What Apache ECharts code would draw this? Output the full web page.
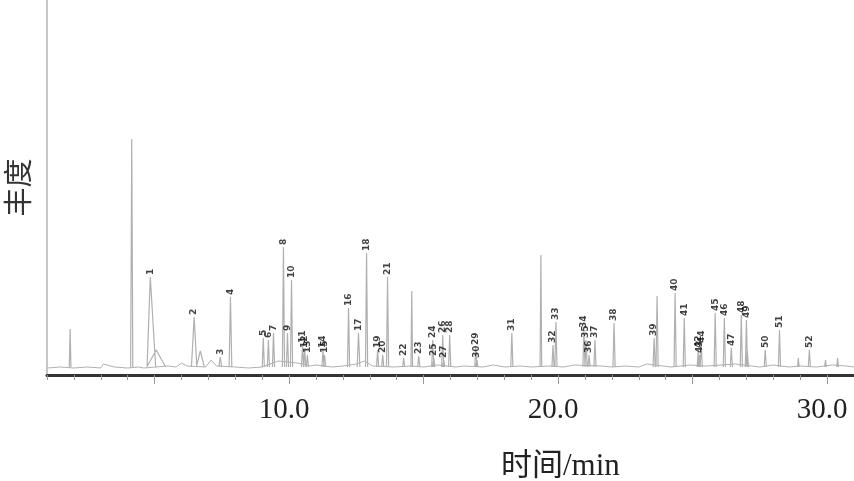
<!DOCTYPE html>
<html>
<head>
<meta charset="utf-8">
<script src="https://cdn.jsdelivr.net/npm/echarts@6/dist/echarts.min.js"></script>
<style>
  html, body { margin: 0; padding: 0; background: #fff; }
  #chart { width: 854px; height: 481px; }
</style>
</head>
<body>
<div id="chart"></div>
<script>
// 标记峰：编号、保留时间(min)、丰度、半峰宽
const peakNames = ['1','2','3','4','5','6','7','8','9','10','11','12','13','14','15','16','17','18','19','20','21','22','23','24','25','26','27','28','29','30','31','32','33','34','35','36','37','38','39','40','41','42','43','44','45','46','47','48','49','50','51','52']
const peakTimes = [4.84,6.47,7.44,7.82,9.04,9.23,9.42,9.79,9.94,10.09,10.50,10.58,10.68,11.26,11.32,12.21,12.58,12.88,13.29,13.48,13.66,14.26,14.82,15.34,15.38,15.71,15.75,15.97,16.94,16.98,18.28,19.81,19.92,20.96,21.04,21.15,21.37,22.08,23.57,24.35,24.69,25.21,25.25,25.32,25.84,26.18,26.44,26.81,27.00,27.70,28.23,29.34]
const peakHeights = [98,58,18,78,37,35,42,128,42,95,30,25,20,25,20,67,42,122,25,20,98,17,19,35,17,40,15,40,28,15,42,30,53,45,35,20,35,52,37,82,57,25,20,30,62,57,27,60,55,25,45,25]
const peakWidths = [0.2,0.1,0.05,0.05,0.04,0.04,0.04,0.04,0.04,0.04,0.04,0.04,0.04,0.04,0.04,0.04,0.05,0.04,0.04,0.04,0.04,0.04,0.04,0.04,0.04,0.04,0.04,0.04,0.04,0.04,0.04,0.04,0.04,0.04,0.04,0.04,0.04,0.04,0.04,0.04,0.04,0.04,0.04,0.04,0.04,0.04,0.04,0.04,0.04,0.04,0.04,0.04]

// 未标记峰
const otherTimes = [1.86,4.15,5.06,6.70,14.56,19.36,23.68,27.03,28.93,29.94,30.39]
const otherHeights = [46,236,25,24,84,120,79,25,17,15,17]
const otherWidths = [0.03,0.04,0.35,0.15,0.03,0.03,0.04,0.05,0.03,0.03,0.03]

// 基线
const baseTimes = [1.0,1.5,2.0,2.5,3.0,3.1,3.5,4.0,4.4,4.6,5.5,5.8,6.0,6.2,6.9,7.1,7.3,8.0,8.5,9.0,9.6,10.3,10.8,11.0,11.6,12.0,12.5,12.8,13.1,13.9,14.5,15.0,15.5,16.2,16.5,17.2,17.6,18.0,18.6,19.0,19.7,20.2,20.6,21.6,22.0,22.5,23.0,23.3,23.9,24.2,24.9,25.5,26.6,27.2,27.5,28.0,28.6,29.0,29.6,30.2,30.7,31.0]
const baseValues = [7,8,7,8,7,11,8,7,8,7,9,8,12,9,8,15,9,8,7,8,14,12,9,10,8,9,11,14,9,8,9,8,10,8,9,8,10,8,9,8,9,8,10,9,8,9,8,11,9,8,10,9,11,9,8,10,8,9,8,10,9,8]

const xMin = 1, xMax = 31
const xLabels = [10, 20, 30]
const baseLevel = 8

const baseLine = baseTimes.map((t, i) => [t, baseValues[i]])

// 每个峰画成一条尖峰，用 null 隔开
const peakLine = []
function addPeaks(times, heights, widths) {
  times.forEach((t, i) => {
    const w = widths[i]
    const lw = w === 0.2 ? 0.12 : w
    peakLine.push([t - lw, baseLevel], [t, heights[i]], [t + w, baseLevel], null)
  })
}
addPeaks(otherTimes, otherHeights, otherWidths)
addPeaks(peakTimes, peakHeights, peakWidths)

const labelData = peakNames.map((n, i) => ({ name: n, value: [peakTimes[i], peakHeights[i]] }))

const ticksMinor = []
for (let v = xMin; v <= xMax; v++) ticksMinor.push(v)
const ticksMajor = [5, 10, 15, 20, 25, 30]

const myChart = echarts.init(document.getElementById('chart'))
myChart.setOption({
  animation: false,
  title: {
    text: '时间/min',
    left: 496,
    top: 446,
    textStyle: { fontFamily: 'Liberation Serif, Noto Sans CJK SC', fontSize: 31, fontWeight: 'normal', color: '#222' }
  },
  grid: { left: 47, right: 0, top: 0, bottom: 106, outerBoundsMode: 'none' },
  xAxis: [
    {
      type: 'value', min: xMin, max: xMax,
      axisLine: { show: true, lineStyle: { color: '#333', width: 3 } },
      axisTick: { show: true, customValues: ticksMinor, length: 5, lineStyle: { color: '#999' } },
      axisLabel: {
        customValues: xLabels, margin: 21,
        formatter: v => v.toFixed(1),
        fontFamily: 'Liberation Serif', fontSize: 29, color: '#222',
        padding: [0, 10, 0, 0]
      },
      splitLine: { show: false }
    },
    {
      type: 'value', min: xMin, max: xMax, position: 'bottom',
      axisLine: { show: false },
      axisTick: { show: true, customValues: ticksMajor, length: 9, lineStyle: { color: '#999' } },
      axisLabel: { show: false },
      splitLine: { show: false }
    }
  ],
  yAxis: {
    type: 'value', min: 0, max: 375,
    name: '丰度', nameLocation: 'middle', nameGap: 15, nameRotate: 90,
    nameTextStyle: { fontFamily: 'Noto Sans CJK SC', fontSize: 29, color: '#333' },
    axisLine: { show: true, lineStyle: { color: '#b5b5b5', width: 1.5 } },
    axisTick: { show: false },
    axisLabel: { show: false },
    splitLine: { show: false }
  },
  series: [
    {
      type: 'line', data: baseLine, symbol: 'none', silent: true,
      lineStyle: { color: '#b0b0b0', width: 1 }, z: 1
    },
    {
      type: 'line', data: peakLine, symbol: 'none', silent: true, connectNulls: false,
      lineStyle: { color: '#b0b0b0', width: 1.2 }, z: 2
    },
    {
      type: 'scatter', data: labelData, symbolSize: 0, silent: true,
      label: {
        show: true, position: 'top', distance: 2, rotate: 90,
        align: 'left', verticalAlign: 'middle',
        formatter: p => p.name,
        fontFamily: 'DejaVu Sans', fontSize: 9, fontWeight: 'bold', color: '#111'
      },
      z: 3
    }
  ]
})
</script>
</body>
</html>
